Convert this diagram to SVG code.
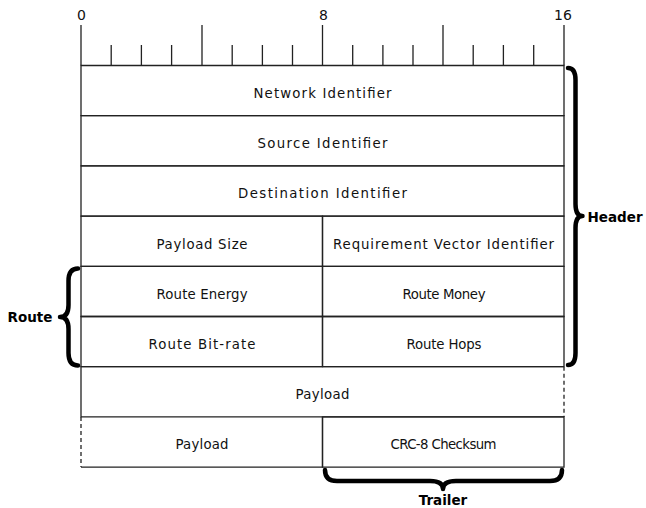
<svg xmlns="http://www.w3.org/2000/svg" width="646" height="508" viewBox="0 0 646 508">
<style>
.ln{stroke:#222;stroke-width:1.3;fill:none}
.dash{stroke:#222;stroke-width:1.3;fill:none;stroke-dasharray:4,3}
.t{font-family:"DejaVu Sans",sans-serif;font-size:13.3px;fill:#111;text-anchor:middle}
.n{font-family:"DejaVu Sans",sans-serif;font-size:14px;fill:#111;text-anchor:middle}
.b{font-family:"DejaVu Sans",sans-serif;font-size:13.5px;font-weight:bold;fill:#000}
.br{stroke:#000;stroke-width:4.5;fill:none;stroke-linecap:round;stroke-linejoin:round}
</style>
<rect width="646" height="508" fill="#fff"/>
<g id="ruler">
<text class="n" x="81.5" y="19.5">0</text>
<text class="n" x="323.5" y="19.5">8</text>
<text class="n" x="563" y="19.5">16</text>
<path class="ln" d="M81,25V65.5M202,25V65.5M322.5,25V65.5M443,25V65.5M564,25V65.5"/>
<path class="ln" d="M111.2,45V65.5M141.4,45V65.5M171.6,45V65.5M232.2,45V65.5M262.4,45V65.5M292.5,45V65.5M352.7,45V65.5M382.9,45V65.5M413,45V65.5M473.2,45V65.5M503.4,45V65.5M533.7,45V65.5"/>
</g>
<g id="net"><path class="ln" d="M81,65.5H564V115.7H81Z"/><text class="t" x="322.5" y="98" textLength="138" lengthAdjust="spacing">Network Identifier</text></g>
<g id="src"><path class="ln" d="M81,115.7H564V165.9H81Z"/><text class="t" x="322.5" y="148.2" textLength="130" lengthAdjust="spacing">Source Identifier</text></g>
<g id="dst"><path class="ln" d="M81,165.9H564V216.1H81Z"/><text class="t" x="322.5" y="198.4" textLength="169" lengthAdjust="spacing">Destination Identifier</text></g>
<g id="psize"><path class="ln" d="M81,216.1H322.5V266.3H81Z"/><text class="t" x="202" y="248.6" textLength="91" lengthAdjust="spacing">Payload Size</text></g>
<g id="rvid"><path class="ln" d="M322.5,216.1H564V266.3H322.5Z"/><text class="t" x="443.5" y="248.6" textLength="221" lengthAdjust="spacing">Requirement Vector Identifier</text></g>
<g id="renergy"><path class="ln" d="M81,266.3H322.5V316.5H81Z"/><text class="t" x="202" y="298.8" textLength="91" lengthAdjust="spacing">Route Energy</text></g>
<g id="rmoney"><path class="ln" d="M322.5,266.3H564V316.5H322.5Z"/><text class="t" x="444" y="298.8" textLength="83" lengthAdjust="spacing">Route Money</text></g>
<g id="rbit"><path class="ln" d="M81,316.5H322.5V366.7H81Z"/><text class="t" x="202" y="349" textLength="107" lengthAdjust="spacing">Route Bit-rate</text></g>
<g id="rhops"><path class="ln" d="M322.5,316.5H564V366.7H322.5Z"/><text class="t" x="444" y="349" textLength="75" lengthAdjust="spacing">Route Hops</text></g>
<g id="payload1"><path class="ln" d="M564,366.7H81V416.9H564"/><path class="dash" d="M564,366.7V416.9"/><text class="t" x="322.5" y="399.2" textLength="54" lengthAdjust="spacing">Payload</text></g>
<g id="payload2"><path class="ln" d="M81,467.1H322.5V416.9"/><path class="dash" d="M81,416.9V467.1"/><text class="t" x="202" y="449.4" textLength="53" lengthAdjust="spacing">Payload</text></g>
<g id="crc"><path class="ln" d="M322.5,416.9H564V467.1H322.5Z"/><text class="t" x="443.5" y="449.4" textLength="106" lengthAdjust="spacing">CRC-8 Checksum</text></g>
<g id="header">
<path class="br" d="M568,68Q575.5,68 575.5,80V204Q575.5,216 582.5,216Q575.5,216 575.5,228V353Q575.5,365 568,365"/>
<text class="b" x="587.5" y="222">Header</text>
</g>
<g id="route">
<path class="br" d="M78,268.5Q68.5,268.5 68.5,281V305Q68.5,317 60,317Q68.5,317 68.5,329V353Q68.5,365.5 78,365.5"/>
<text class="b" x="7.5" y="321.5">Route</text>
</g>
<g id="trailer">
<path class="br" d="M325,470Q325,481 337,481H430Q443,481 443,489Q443,481 456,481H550Q562,481 562,470"/>
<text class="b" x="443" y="505" text-anchor="middle">Trailer</text>
</g>
</svg>
